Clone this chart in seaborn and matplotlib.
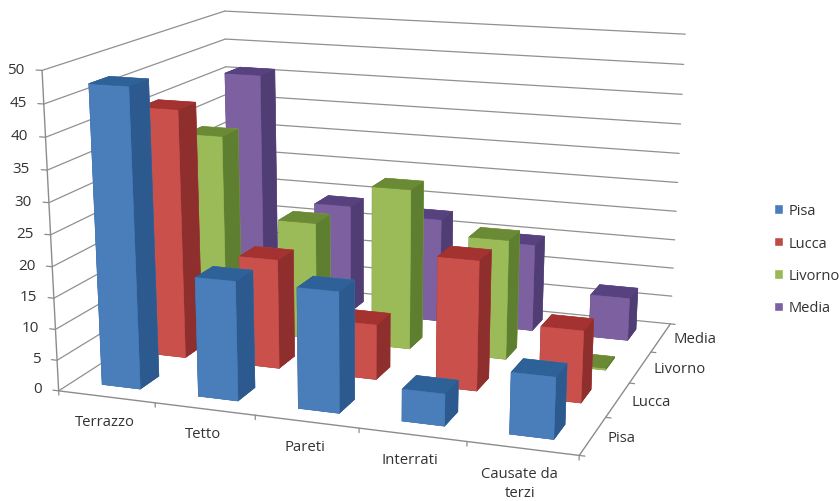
import numpy as np
import matplotlib
matplotlib.use("Agg")
import matplotlib.pyplot as plt
from matplotlib.patches import Patch
from mpl_toolkits.mplot3d import proj3d
import seaborn as sns

# ---- data ----
categories = ["Terrazzo", "Tetto", "Pareti", "Interrati", "Causate da\nterzi"]
series_names = ["Pisa", "Lucca", "Livorno", "Media"]
pisa = [47.5, 19, 19, 5, 9.5]
lucca = [41, 18, 9, 21, 11.5]
livorno = [33.5, 20, 27, 20, 0.2]
media = [41, 19, 18, 15, 7.3]
z_ticks = [0, 5, 10, 15, 20, 25, 30, 35, 40, 45, 50]

series_values = [pisa, lucca, livorno, media]
W, H = 840, 502

sns.set_theme(style="white")
plt.rcParams["font.family"] = ["Open Sans", "DejaVu Sans"]
front = sns.color_palette(["#4A7EBB", "#C9504B", "#9BBB59", "#7D60A0"])
side = sns.color_palette(["#2C5A8F", "#8F2F2D", "#5F7F30", "#4F3D73"])
top = sns.color_palette(["#2F6199", "#A33230", "#6A8A35", "#57417F"])
legend_cols = sns.color_palette(["#4A7EBB", "#BE4B48", "#98B954", "#7D60A0"])

fig = plt.figure(figsize=(W / 100, H / 100), dpi=100, facecolor="white")
# a square 3D axes (wider than the figure is tall) centred on the figure
ax = fig.add_axes([0, (1 - W / H) / 2, 1, W / H], projection="3d")
ax.set_axis_off()
ax.computed_zorder = False
nx, ny, zmax = len(categories), len(series_names), z_ticks[-1]
ax.set_xlim(0, nx); ax.set_ylim(0, ny); ax.set_zlim(0, zmax)
ax.set_xticks([]); ax.set_yticks([]); ax.set_zticks([])
ax.apply_aspect()

# camera calibrated on the visible corners of the chart box
box = [((0, 0, 0), (58, 388)), ((nx, 0, 0), (580, 459)), ((nx, ny, 0), (670, 322)),
       ((0, ny, 0), (231, 285)), ((0, ny, zmax), (225, 10)), ((nx, ny, zmax), (685, 36)),
       ((0, 0, zmax), (42, 73))]
rows = []
inv = ax.transData.inverted()
for (X, Y, Z), (px, py) in box:
    u, v = inv.transform((px, H - py))
    rows.append([X, Y, Z, 1, 0, 0, 0, 0, -u * X, -u * Y, -u * Z, -u])
    rows.append([0, 0, 0, 0, X, Y, Z, 1, -v * X, -v * Y, -v * Z, -v])
P = np.linalg.svd(np.array(rows))[2][-1].reshape(3, 4)
if P[2] @ np.array([nx / 2, ny / 2, zmax / 2, 1]) < 0:
    P = -P
P = P / P[2, 3]
M = np.vstack([P[0], P[1], [0, 0, 0, -1], P[2]])
ax.get_proj = lambda: M


def label3d(X, Y, Z, s, **kw):
    """Plain text anchored at the projected position of a 3D point."""
    u, v, _ = proj3d.proj_transform(X, Y, Z, M)
    return ax.text2D(u, v, s, transform=ax.transData, color="#333333", **kw)


# walls
grid = "#909090"
axis_c = "#8c8c8c"
for z in z_ticks:
    ax.plot([0, 0], [0, ny], [z, z], color=grid, lw=0.9, zorder=1)
    ax.plot([0, nx], [ny, ny], [z, z], color=grid, lw=0.9, zorder=1)
    ax.plot([-0.06, 0], [0, 0], [z, z], color=axis_c, lw=0.9, zorder=1)
    label3d(-0.175, 0, z, str(z), ha="right", va="center", fontsize=11)
ax.plot([0, 0], [0, 0], [0, zmax], color=axis_c, lw=1, zorder=1)
ax.plot([0, nx], [0, 0], [0, 0], color=axis_c, lw=1, zorder=1)
ax.plot([nx, nx], [0, ny], [0, 0], color=axis_c, lw=1, zorder=1)

# ticks and labels
for i, label in enumerate(categories):
    ax.plot([i, i], [0, 0], [0, -0.7], color=axis_c, lw=0.9, zorder=1)
    label3d(i + 0.48, 0, -2.8, label, ha="center", va="top", fontsize=10.7, linespacing=1.35)
ax.plot([nx, nx], [0, 0], [0, -0.7], color=axis_c, lw=0.9, zorder=1)
for j, label in enumerate(series_names):
    ax.plot([nx, nx + 0.05], [j, j], [0, 0], color=axis_c, lw=0.9, zorder=1)
    label3d(nx + 0.13, j + 0.5, 0, label, ha="left", va="center", fontsize=10.7)
ax.plot([nx, nx + 0.05], [ny, ny], [0, 0], color=axis_c, lw=0.9, zorder=1)

# bars: back row first, left to right within a row
bw = 0.4
for j in range(ny - 1, -1, -1):
    for i in range(nx):
        faces = [top[j], top[j], front[j], front[j], side[j], side[j]]
        poly = ax.bar3d(i + 0.5 - bw / 2, j + 0.5 - bw / 2, 0, bw, bw, series_values[j][i],
                        color=faces, shade=False, linewidth=0.4, edgecolor=faces)
        poly.set_zorder(10 + (ny - j) * 10 + i)

handles = [Patch(facecolor=c, label=n) for c, n in zip(legend_cols, series_names)]
fig.legend(handles=handles, loc="upper left", bbox_to_anchor=(774 / W, 1 - 204 / H),
           frameon=False, fontsize=10.5, handlelength=0.62, handleheight=0.62,
           handletextpad=0.35, labelspacing=1.2, borderpad=0, borderaxespad=0,
           labelcolor="#333333")

fig.savefig("out.png", dpi=100, facecolor="white")
